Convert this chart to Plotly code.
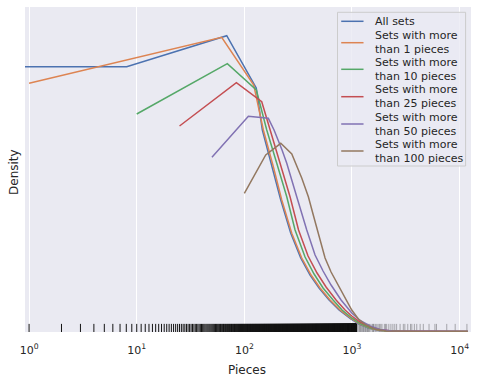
import plotly.graph_objects as go

# ---- data (pieces, density) ----
series_names = [
    ["All sets"],
    ["Sets with more", "than 1 pieces"],
    ["Sets with more", "than 10 pieces"],
    ["Sets with more", "than 25 pieces"],
    ["Sets with more", "than 50 pieces"],
    ["Sets with more", "than 100 pieces"],
]
colors = ["#4c72b0", "#dd8452", "#55a868", "#c44e52", "#8172b3", "#937860"]

all_x = [0.5, 8.07, 68.6, 129, 147, 182, 218, 270, 334, 408, 494.5, 612.6, 758.8, 974.6, 1164, 1442, 1786, 2740, 11920]
all_y = [2.648, 2.648, 2.958, 2.435, 2.015, 1.648, 1.315, 0.982, 0.735, 0.565, 0.435, 0.315, 0.215, 0.125,
         0.075, 0.032, 0.010, 0.002, 0.0]

gt1_x = [1, 61.6, 122.3, 150.2, 186.0, 222.7, 275.8, 341.6, 416.9, 505.2, 625.9, 775.2, 995.7, 1189, 1473, 1825, 2799, 11920]
gt1_y = [2.482, 2.942, 2.465, 2.015, 1.648, 1.315, 0.982, 0.735, 0.565, 0.435, 0.315, 0.215, 0.125, 0.075,
         0.032, 0.010, 0.002, 0.0]

gt10_x = [10, 69.5, 129.3, 161.5, 200.1, 247.8, 296.0, 366.6, 444.5, 538.8, 667.4, 809.1, 995.7, 1189, 1473, 1905, 2799, 11920]
gt10_y = [2.175, 2.678, 2.415, 2.015, 1.682, 1.348, 1.015, 0.745, 0.575, 0.435, 0.315, 0.215, 0.135, 0.080,
          0.035, 0.010, 0.002, 0.0]

gt25_x = [25, 84.3, 145.1, 173.3, 214.7, 265.9, 318.9, 390.9, 473.8, 574.5, 711.6, 862.9, 995.7, 1189, 1473, 1825, 2359, 4296, 11920]
gt25_y = [2.055, 2.488, 2.298, 2.015, 1.682, 1.348, 1.015, 0.755, 0.585, 0.445, 0.315, 0.215, 0.155, 0.095,
          0.045, 0.017, 0.005, 0.001, 0.0]

gt50_x = [50, 109, 167, 188.8, 224.0, 247.8, 306.9, 380.2, 454.0, 538.8, 639.5, 792.0, 995.7, 1189, 1473, 1825, 2359, 5318, 11920]
gt50_y = [1.742, 2.152, 2.132, 2.015, 1.815, 1.682, 1.348, 1.015, 0.765, 0.605, 0.465, 0.315, 0.185, 0.110,
          0.055, 0.020, 0.005, 0.001, 0.0]

gt100_x = [100, 158, 218, 276, 342, 393.4, 441.6, 476.9, 562.3, 639.5, 727, 844.8, 995.7, 1147, 1352, 1639, 2074, 4296, 11920]
gt100_y = [1.382, 1.765, 1.882, 1.775, 1.532, 1.348, 1.148, 1.015, 0.735, 0.595, 0.485, 0.355, 0.215, 0.125,
           0.065, 0.025, 0.006, 0.001, 0.0]

series_x = [all_x, gt1_x, gt10_x, gt25_x, gt50_x, gt100_x]
series_y = [all_y, gt1_y, gt10_y, gt25_y, gt50_y, gt100_y]
density_scale = 1e-3  # densities above are in units of 1e-3

# rug: every piece count is present from 1 up to this value, then sparse values
rug_dense_max = 1100
rug_sparse = [1110, 1130, 1160, 1180, 1200, 1230, 1250, 1280, 1300, 1330, 1350, 1380, 1400, 1430,
              1450, 1500, 1550, 1580, 1600, 1650, 1700, 1750, 1800, 1850, 1900, 2000, 2050, 2100,
              2200, 2300, 2400, 2500, 2600, 2800, 3000, 3100, 3300, 3500, 3600, 3800, 4000, 4300,
              4600, 5200, 5900, 6100, 7600, 9100, 11700]

tick_vals = [1, 10, 100, 1000, 10000]
tick_text = ["10<sup>0</sup>", "10<sup>1</sup>", "10<sup>2</sup>", "10<sup>3</sup>", "10<sup>4</sup>"]

# ---- layout geometry (pixels) ----
W, H = 477, 380
PL, PR, PT, PB = 25, 470.7, 7, 332
pw, ph = PR - PL, PB - PT

def px(x):
    return (x - PL) / pw

def py(y):
    return (PB - y) / ph

y_range = [-0.000005, 0.003245]
rug_h = 0.025 * (y_range[1] - y_range[0])

fig = go.Figure()

def rug_trace(values, color, width):
    xs, ys = [], []
    for v in values:
        xs += [v, v, None]
        ys += [y_range[0], y_range[0] + rug_h, None]
    return go.Scatter(x=xs, y=ys, mode="lines", line=dict(color=color, width=width),
                      showlegend=False, hoverinfo="skip")

fig.add_trace(rug_trace(list(range(1, rug_dense_max + 1)), "rgba(20,20,20,1)", 1))
fig.add_trace(rug_trace(rug_sparse, "rgba(0,0,0,0.3)", 1))

for name, xs, ys, c in zip(series_names, series_x, series_y, colors):
    fig.add_trace(go.Scatter(x=xs, y=[v * density_scale for v in ys], mode="lines",
                             name=" ".join(name), showlegend=False,
                             line=dict(color=c, width=1.5)))

# ---- hand-placed legend (matches matplotlib spacing) ----
shapes = [dict(type="rect", xref="paper", yref="paper",
               x0=px(337.3), x1=px(465.3), y0=py(166), y1=py(12.3),
               fillcolor="rgba(234,234,242,0.8)", line=dict(color="#cccccc", width=1))]
annotations = []
centers = [21.3, 42.7, 69.3, 96.7, 124, 151]
for name, c, yc in zip(series_names, colors, centers):
    shapes.append(dict(type="line", xref="paper", yref="paper",
                       x0=px(341), x1=px(363.3), y0=py(yc), y1=py(yc),
                       line=dict(color=c, width=1.5)))
    annotations.append(dict(text="<br>".join(name), xref="paper", yref="paper",
                            x=px(372.3), y=py(yc), xanchor="left", yanchor="middle",
                            align="left", showarrow=False,
                            font=dict(size=11, color="#262626")))

annotations += [
    dict(text="Pieces", xref="paper", yref="paper", x=px(247.2), y=py(369.5), yanchor="middle",
         showarrow=False, font=dict(size=12, color="#262626")),
    dict(text="Density", xref="paper", yref="paper", x=px(13.5), y=py(171.5), xanchor="center",
         yanchor="middle", textangle=-90, showarrow=False, font=dict(size=12, color="#262626")),
]

fig.update_layout(
    width=W, height=H,
    margin=dict(l=PL, r=W - PR, t=PT, b=H - PB),
    plot_bgcolor="#eaeaf2", paper_bgcolor="white",
    font=dict(family="DejaVu Sans", color="#262626", size=11),
    showlegend=False,
    xaxis=dict(type="log", range=[-0.038, 4.106], tickvals=tick_vals, ticktext=tick_text,
               showgrid=True, gridcolor="white", gridwidth=1.2, zeroline=False, ticks="",
               showline=False, ticklabelstandoff=10, tickfont=dict(size=11, color="#262626")),
    yaxis=dict(range=y_range, showticklabels=False, showgrid=False, zeroline=False,
               ticks="", showline=False),
    shapes=shapes,
    annotations=annotations,
)

fig.write_html("out.html", config={"displayModeBar": False},
               post_script="document.body.style.margin='0';")
